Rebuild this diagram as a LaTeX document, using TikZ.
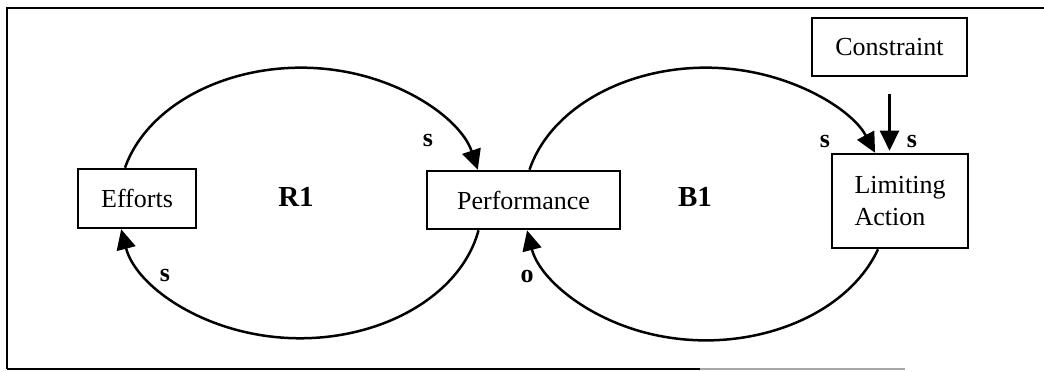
\documentclass[tikz,border=0pt]{standalone}
\usepackage{fontspec}
\setmainfont{Liberation Serif}
\usetikzlibrary{arrows.meta}
\begin{document}
\begin{tikzpicture}[x=1pt,y=1pt,
  box/.style={draw, line width=2.6pt, inner sep=0pt, font=\fontsize{26}{32}\selectfont},
  arr/.style={line width=2.5pt, -{Triangle[length=20pt,width=19pt]}},
  sign/.style={font=\fontsize{26}{28}\selectfont\bfseries},
  looplabel/.style={font=\fontsize{29}{32}\selectfont\bfseries}
]
\useasboundingbox (0,0) rectangle (1044,372);
% frame
\draw[line width=2.6pt] (7,3) -- (7,364) -- (1044,364);
\draw[line width=2.6pt] (7,3) -- (700,3);
\draw[line width=2pt, black!35] (700,3) -- (905,3);
% nodes
\node[box, minimum width=118pt, minimum height=59pt] (eff) at (137,173.5) {Efforts};
\node[box, minimum width=193pt, minimum height=58pt] (perf) at (523.5,172) {Performance};
\node[box, minimum width=136pt, minimum height=94pt, align=left] (lim) at (900,171) {Limiting\\Action};
\node[box, minimum width=155pt, minimum height=58pt] (con) at (889.5,325) {Constraint};
\node[looplabel] (r1) at (296,175) {R1};
\node[looplabel] (b1) at (695,175) {B1};
% R1 loop
\draw[arr] ([xshift=-12pt]eff.north) arc[start angle=165.3, end angle=13.8, x radius=182pt, y radius=134pt];
\draw[arr] ([xshift=-45pt]perf.south) arc[start angle=-11.2, end angle=-169.25, x radius=182pt, y radius=134pt];
% B1 loop
\draw[arr] ([xshift=6pt]perf.north) arc[start angle=165.85, end angle=21.7, x radius=182pt, y radius=135pt];
\draw[arr] ([xshift=-22pt]lim.south) arc[start angle=-19.0, end angle=-169.3, x radius=182pt, y radius=135pt];
% constraint
\draw[arr] ([yshift=-17pt]con.south) -- ([yshift=2pt]con.south |- lim.north);
% signs
\node[sign] (s1) at (428,231) {s};
\node[sign] (s2) at (165,96) {s};
\node[sign] (o1) at (527,95) {o};
\node[sign] (s3) at (825,230) {s};
\node[sign] (s4) at (912,230) {s};
\end{tikzpicture}
\end{document}
